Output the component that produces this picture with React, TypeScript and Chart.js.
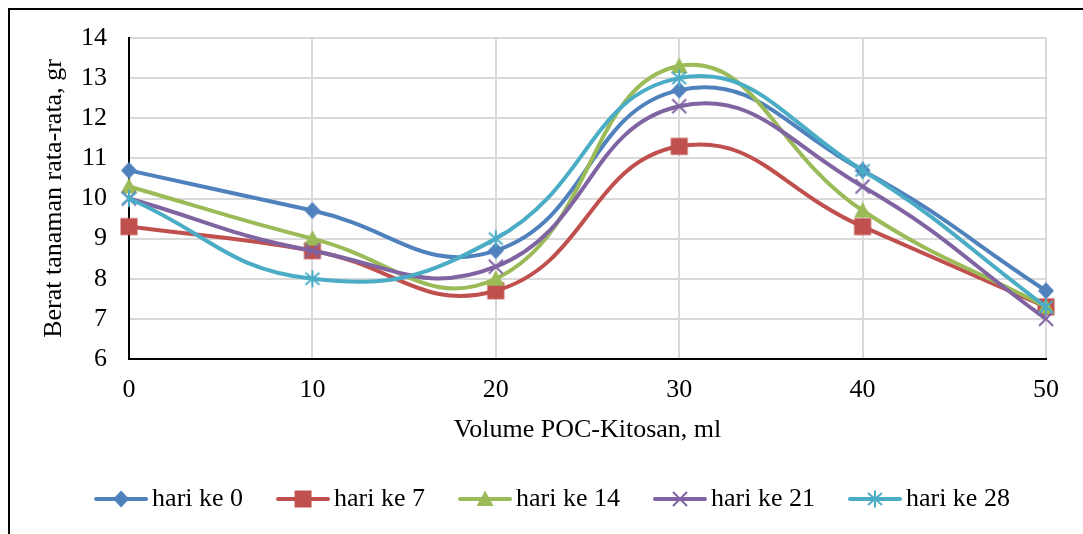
import React, { useEffect, useRef } from "react";
import { Chart, registerables } from "chart.js";

Chart.register(...registerables);

// ---- data ----
const categories = ["0", "10", "20", "30", "40", "50"];
const seriesNames = ["hari ke 0", "hari ke 7", "hari ke 14", "hari ke 21", "hari ke 28"];
const hari0 = [10.7, 9.7, 8.7, 12.7, 10.7, 7.7];
const hari7 = [9.3, 8.7, 7.7, 11.3, 9.3, 7.3];
const hari14 = [10.3, 9.0, 8.0, 13.3, 9.7, 7.3];
const hari21 = [10.0, 8.7, 8.3, 12.3, 10.3, 7.0];
const hari28 = [10.0, 8.0, 9.0, 13.0, 10.7, 7.3];
const yMin = 6;
const yMax = 14;
const yStep = 1;
const xTitle = "Volume POC-Kitosan, ml";
const yTitle = "Berat tanaman rata-rata, gr";

const seriesValues = [hari0, hari7, hari14, hari21, hari28];
const colors = ["#4F81BD", "#C0504D", "#9BBB59", "#8064A2", "#4BACC6"];
const markers = ["diamond", "square", "triangle", "x", "star"];

const FONT = '"Liberation Serif", "Times New Roman", serif';

function makeMarker(kind: string, color: string): HTMLCanvasElement {
  const c = document.createElement("canvas");
  const s = 20;
  c.width = s;
  c.height = s;
  const ctx = c.getContext("2d")!;
  const m = s / 2;
  ctx.fillStyle = color;
  ctx.strokeStyle = color;
  ctx.lineWidth = 2;
  ctx.beginPath();
  if (kind === "diamond") {
    ctx.moveTo(m, m - 8.5);
    ctx.lineTo(m + 8, m);
    ctx.lineTo(m, m + 8.5);
    ctx.lineTo(m - 8, m);
    ctx.closePath();
    ctx.fill();
  } else if (kind === "square") {
    ctx.rect(m - 8.5, m - 8.5, 17, 17);
    ctx.fill();
  } else if (kind === "triangle") {
    ctx.moveTo(m, m - 8.5);
    ctx.lineTo(m + 8.5, m + 7);
    ctx.lineTo(m - 8.5, m + 7);
    ctx.closePath();
    ctx.fill();
  } else if (kind === "x") {
    ctx.moveTo(m - 7, m - 7);
    ctx.lineTo(m + 7, m + 7);
    ctx.moveTo(m + 7, m - 7);
    ctx.lineTo(m - 7, m + 7);
    ctx.stroke();
  } else {
    ctx.moveTo(m - 7, m - 6);
    ctx.lineTo(m + 7, m + 6);
    ctx.moveTo(m + 7, m - 6);
    ctx.lineTo(m - 7, m + 6);
    ctx.moveTo(m, m - 8.5);
    ctx.lineTo(m, m + 8.5);
    ctx.stroke();
  }
  return c;
}

const legendPlugin = {
  id: "lineMarkerLegend",
  afterDraw(chart: any) {
    const ctx = chart.ctx as CanvasRenderingContext2D;
    ctx.save();
    ctx.font = `26px ${FONT}`;
    const lineLen = 54;
    const gap = 4;
    const spacing = 33;
    const items = chart.data.datasets.map((ds: any) => ({
      text: ds.label as string,
      w: ctx.measureText(ds.label).width,
      color: ds.borderColor as string,
      img: ds.pointStyle as HTMLCanvasElement,
    }));
    const total =
      items.reduce((s: number, it: any) => s + lineLen + gap + it.w, 0) +
      spacing * (items.length - 1);
    let x = 542 - total / 2;
    const y = 489;
    for (const it of items) {
      ctx.strokeStyle = it.color;
      ctx.lineWidth = 4;
      ctx.lineCap = "round";
      ctx.beginPath();
      ctx.moveTo(x + 2, y);
      ctx.lineTo(x + lineLen - 2, y);
      ctx.stroke();
      ctx.drawImage(it.img, x + lineLen / 2 - it.img.width / 2, y - it.img.height / 2);
      ctx.fillStyle = "#000";
      ctx.textBaseline = "middle";
      ctx.textAlign = "left";
      ctx.fillText(it.text, x + lineLen + gap, y);
      x += lineLen + gap + it.w + spacing;
    }
    ctx.restore();
  },
};

export default function App() {
  const ref = useRef<HTMLCanvasElement | null>(null);

  useEffect(() => {
    if (!ref.current) return;
    const datasets = seriesNames.map((name, i) => ({
      label: name,
      data: seriesValues[i],
      borderColor: colors[i],
      backgroundColor: colors[i],
      borderWidth: 4,
      tension: 0.45,
      fill: false,
      pointStyle: makeMarker(markers[i], colors[i]),
      pointRadius: 9,
      clip: false as any,
      order: seriesNames.length - 1 - i,
    }));

    const tickFont = { family: FONT, size: 26 };

    const chart = new Chart(ref.current, {
      type: "line",
      data: { labels: categories, datasets },
      options: {
        animation: false,
        responsive: false,
        maintainAspectRatio: false,
        layout: { padding: { left: 0, right: 37, top: 28, bottom: 88 } },
        plugins: {
          legend: { display: false },
          tooltip: { enabled: false },
        },
        scales: {
          x: {
            type: "category",
            offset: false,
            grid: {
              color: "#D9D9D9",
              lineWidth: 2,
              drawTicks: true,
              tickLength: 16,
              tickColor: "rgba(0,0,0,0)",
            },
            border: { color: "#000", width: 2 },
            ticks: {
              color: "#000",
              font: tickFont,
              padding: 0,
              maxRotation: 0,
              autoSkip: false,
            },
            title: {
              display: true,
              text: xTitle,
              color: "#000",
              font: tickFont,
              padding: { top: 0, bottom: 0 },
            },
            afterFit: (s: any) => {
              s.height = 87;
            },
          },
          y: {
            type: "linear",
            min: yMin,
            max: yMax,
            grid: {
              color: "#D9D9D9",
              lineWidth: 2,
              drawTicks: true,
              tickLength: 22,
              tickColor: "rgba(0,0,0,0)",
            },
            border: { color: "#000", width: 2 },
            ticks: {
              stepSize: yStep,
              color: "#000",
              font: tickFont,
              padding: 0,
            },
            title: {
              display: true,
              text: yTitle,
              color: "#000",
              font: tickFont,
              padding: { top: 29, bottom: 0 },
            },
            afterFit: (s: any) => {
              s.width = 119;
            },
          },
        },
      },
      plugins: [legendPlugin],
    });
    return () => chart.destroy();
  }, []);

  return (
    <div
      style={{
        position: "fixed",
        left: 8,
        top: 8,
        width: 1075,
        height: 526,
        borderTop: "2px solid #000",
        borderLeft: "2px solid #000",
        background: "#fff",
      }}
    >
      <canvas ref={ref} width={1073} height={524} style={{ display: "block" }} />
    </div>
  );
}
